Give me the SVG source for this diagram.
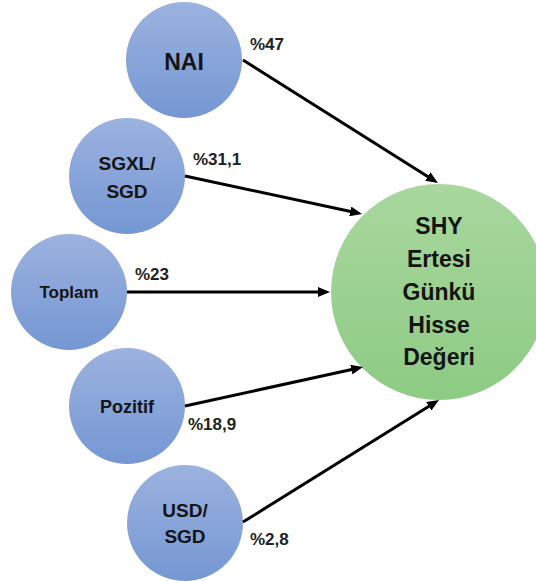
<svg xmlns="http://www.w3.org/2000/svg" width="536" height="581" viewBox="0 0 536 581">
  <style>
    .blue { fill: url(#gBlue); }
    .green { fill: url(#gGreen); }
    .nt { font-family: "Liberation Sans", Arial, sans-serif; font-weight: bold; fill: #141414; text-anchor: middle; }
    .pct { font-family: "Liberation Sans", Arial, sans-serif; font-weight: bold; fill: #222; font-size: 17px; }
    .edge { stroke: #000; stroke-width: 3; fill: none; marker-end: url(#arrow); }
  </style>
  <defs>
    <linearGradient id="gBlue" x1="0" y1="0" x2="0" y2="1">
      <stop offset="0" stop-color="#9cb2df"/>
      <stop offset="1" stop-color="#7597d3"/>
    </linearGradient>
    <linearGradient id="gGreen" x1="0" y1="0" x2="0" y2="1">
      <stop offset="0" stop-color="#a9d79e"/>
      <stop offset="1" stop-color="#8dcb84"/>
    </linearGradient>
    <marker id="arrow" viewBox="0 0 12 10" refX="4" refY="5" markerWidth="12" markerHeight="10" markerUnits="userSpaceOnUse" orient="auto">
      <path d="M0,0 L12,5 L0,10 z" fill="#000"/>
    </marker>
  </defs>

  <g id="node-target">
    <circle class="green" cx="439" cy="292" r="108"/>
    <text class="nt" font-size="23" x="439" y="234">SHY</text>
    <text class="nt" font-size="23" x="439" y="267">Ertesi</text>
    <text class="nt" font-size="23" x="439" y="300">Günkü</text>
    <text class="nt" font-size="23" x="439" y="333">Hisse</text>
    <text class="nt" font-size="23" x="439" y="365">Değeri</text>
  </g>

  <g id="node-nai">
    <circle class="blue" cx="184" cy="60" r="58"/>
    <text class="nt" font-size="23" x="184" y="70">NAI</text>
  </g>

  <g id="node-sgxl">
    <circle class="blue" cx="127" cy="176" r="58"/>
    <text class="nt" font-size="19" x="127" y="170">SGXL/</text>
    <text class="nt" font-size="19" x="127" y="198">SGD</text>
  </g>

  <g id="node-toplam">
    <circle class="blue" cx="69" cy="292" r="58"/>
    <text class="nt" font-size="17" x="69" y="298">Toplam</text>
  </g>

  <g id="node-pozitif">
    <circle class="blue" cx="127" cy="406" r="58"/>
    <text class="nt" font-size="18" x="127" y="413">Pozitif</text>
  </g>

  <g id="node-usd">
    <circle class="blue" cx="185" cy="523" r="58"/>
    <text class="nt" font-size="19" x="185" y="517">USD/</text>
    <text class="nt" font-size="19" x="185" y="543">SGD</text>
  </g>

  <g id="connectors">
    <line class="edge" x1="243" y1="60" x2="431.2" y2="178.7"/>
    <line class="edge" x1="185" y1="176" x2="354.2" y2="212.3"/>
    <line class="edge" x1="127" y1="292" x2="322" y2="292"/>
    <line class="edge" x1="185" y1="406" x2="355.2" y2="368.7"/>
    <line class="edge" x1="243" y1="522" x2="432.2" y2="404.2"/>
    <text class="pct" x="250" y="50">%47</text>
    <text class="pct" x="193" y="165">%31,1</text>
    <text class="pct" x="135" y="280">%23</text>
    <text class="pct" x="188" y="430">%18,9</text>
    <text class="pct" x="250" y="545">%2,8</text>
  </g>
</svg>
